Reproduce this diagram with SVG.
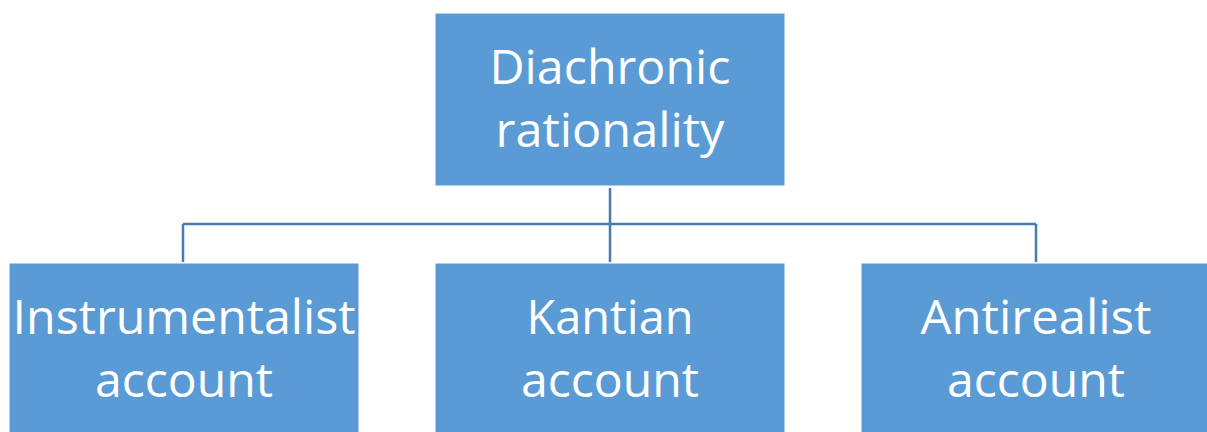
<svg xmlns="http://www.w3.org/2000/svg" width="1207" height="432" viewBox="0 0 1207 432">
<style>
.box{fill:#5B9BD5;stroke:#ffffff;stroke-width:1}
.lbl{font-family:"Open Sans","Liberation Sans",sans-serif;font-size:47px;fill:#ffffff;text-anchor:middle}
.conn{fill:none;stroke:#4A7BAE;stroke-width:2.5}
</style>
<rect width="1207" height="432" fill="#ffffff"/>
<g id="connectors">
<path class="conn" d="M610 188V262M183 224H1036M183 224V262M1036 224V262"/>
</g>
<g id="node-diachronic">
<rect class="box" x="435" y="13" width="350" height="173"/>
<text class="lbl" x="610" y="84" textLength="241" lengthAdjust="spacingAndGlyphs">Diachronic</text>
<text class="lbl" x="610" y="147" textLength="229" lengthAdjust="spacingAndGlyphs">rationality</text>
</g>
<g id="node-instrumentalist">
<rect class="box" x="9" y="263" width="350" height="175"/>
<text class="lbl" x="184" y="334" textLength="343" lengthAdjust="spacingAndGlyphs">Instrumentalist</text>
<text class="lbl" x="184" y="397" textLength="178" lengthAdjust="spacingAndGlyphs">account</text>
</g>
<g id="node-kantian">
<rect class="box" x="435" y="263" width="350" height="175"/>
<text class="lbl" x="610" y="334" textLength="167" lengthAdjust="spacingAndGlyphs">Kantian</text>
<text class="lbl" x="610" y="397" textLength="178" lengthAdjust="spacingAndGlyphs">account</text>
</g>
<g id="node-antirealist">
<rect class="box" x="861" y="263" width="350" height="175"/>
<text class="lbl" x="1036" y="334" textLength="231" lengthAdjust="spacingAndGlyphs">Antirealist</text>
<text class="lbl" x="1036" y="397" textLength="178" lengthAdjust="spacingAndGlyphs">account</text>
</g>
</svg>
